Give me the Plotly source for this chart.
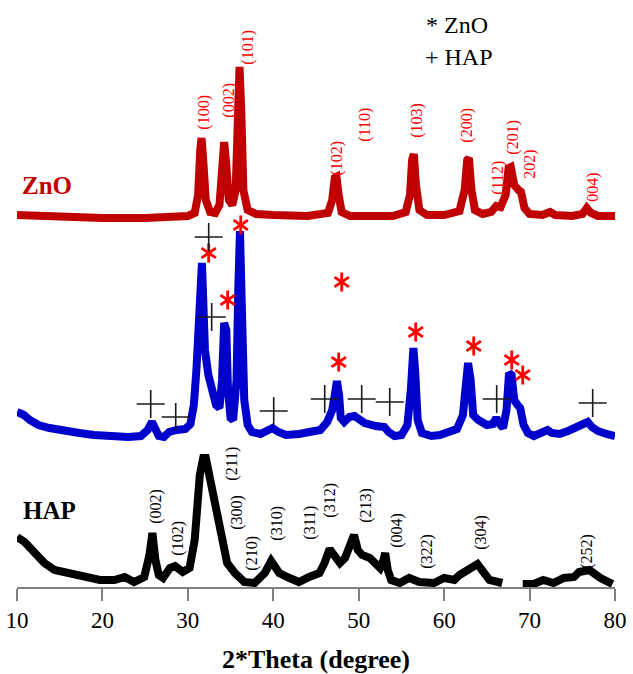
import plotly.graph_objects as go

# ---------------- XRD patterns (2-theta in degrees, intensity in a.u.) ----------------
zno_theta = [10.0, 12, 15, 20, 25, 28, 30, 30.8, 31.2, 31.45, 31.6, 31.8, 32.1, 32.6, 33.2,
             33.7, 34.0, 34.25, 34.5, 34.8, 35.2, 35.6, 35.85, 36.05, 36.25, 36.5, 37.0, 38,
             40, 44, 46.4, 46.9, 47.2, 47.4, 47.65, 48.0, 49, 52, 54, 55.5, 56.0, 56.25,
             56.45, 56.7, 57.1, 58, 60, 61.8, 62.4, 62.7, 62.9, 63.2, 63.6, 64.5, 65.5, 66.1,
             66.6, 67.2, 67.55, 67.8, 68.2, 68.7, 69.0, 69.4, 70, 71.5, 72.4, 73, 75, 76.2,
             76.7, 77.2, 78, 80]
zno_int = [3, 2, 1, 0, 0, 1, 2, 5, 23, 68, 80, 58, 18, 6, 5,
           13, 48, 76, 53, 18, 13, 28, 98, 151, 108, 28, 8, 4,
           3, 2, 5, 18, 40, 41, 23, 6, 2, 2, 2, 6, 23, 58,
           64, 33, 8, 3, 3, 7, 28, 58, 60, 28, 8, 4, 6, 12,
           11, 23, 50, 51, 33, 28, 26, 10, 4, 3, 6, 3, 2, 4,
           10, 5, 2, 2]

znhap_theta = [10.0, 10.8, 11.5, 12.5, 13.8, 15.5, 17.3, 19, 20.8, 23, 24.5, 25.3, 25.8, 26.2,
               26.6, 27.2, 27.8, 28.7, 29.7, 30.3, 30.7, 31.0, 31.3, 31.5, 31.65, 31.8, 32.0,
               32.4, 32.9, 33.3, 33.7, 34.0, 34.25, 34.5, 34.7, 35.0, 35.3, 35.7, 35.9, 36.1,
               36.3, 36.6, 37.0, 37.5, 38.5, 39.4, 39.9, 40.6, 41.5, 43, 44.5, 45.5, 46.3,
               46.9, 47.2, 47.45, 47.7, 47.9, 48.3, 48.9, 49.5, 50.0, 50.7, 52, 53, 53.5, 54.2,
               55, 55.7, 56.1, 56.4, 56.6, 56.9, 57.4, 58.5, 59.5, 60.5, 61.5, 62.2, 62.5,
               62.8, 63.1, 63.4, 64, 65, 65.7, 66.1, 66.5, 66.9, 67.3, 67.6, 67.9, 68.2, 68.6,
               68.9, 69.3, 69.8, 70.5, 71.5, 72.1, 72.6, 73.5, 74.5, 75.5, 76.3, 76.8, 77.3,
               78, 79, 80]
znhap_int = [25, 22, 17, 12, 9, 6, 4, 2, 1, 0, 1, 7, 15, 9,
             1, 0, 5, 7, 8, 13, 32, 67, 117, 174, 174, 137, 87,
             62, 42, 32, 29, 57, 114, 107, 47, 19, 17, 57, 147, 206,
             137, 37, 12, 5, 3, 7, 9, 5, 2, 3, 5, 7, 15,
             27, 42, 56, 42, 19, 15, 20, 21, 17, 14, 11, 10, 5, 1,
             2, 12, 47, 89, 67, 17, 4, 1, 2, 4, 8, 22, 47,
             74, 57, 22, 17, 12, 13, 19, 13, 9, 27, 64, 62, 37, 32,
             29, 12, 4, 1, 4, 7, 4, 3, 6, 9, 13, 15, 10,
             6, 3, 1]

# HAP scan has no data recorded between ~66.8 and ~69.2 degrees
hap_theta = [10.0, 10.9, 12.1, 13.2, 14.4, 16.2, 17.9, 19.7, 21.4, 22.6, 23.7, 24.9, 25.5,
             25.85, 26.2, 26.6, 27.1, 27.9, 28.5, 29.4, 30.2, 30.8, 31.4, 31.8, 32.1, 32.5,
             33.1, 33.9, 34.6, 35.5, 36.6, 37.8, 39.0, 39.75, 40.7, 41.9, 43.0, 44.2, 45.4,
             46.0, 46.6, 47.1, 47.8, 48.4, 49.0, 49.45, 49.9, 50.4, 51.3, 52.5, 52.9, 53.1,
             53.4, 53.8, 54.8, 55.9, 57.1, 58.8, 60.0, 61.2, 61.8, 63.0, 63.9, 65.3, 66.5,
             66.8, None, 69.2, 70.5, 71.6, 72.8, 74.0, 75.2, 75.8, 77.0, 78.3, 79.7]
hap_int = [50, 45, 34, 24, 17, 14, 10, 7, 7, 10, 5, 10, 32,
           54, 27, 12, 9, 19, 21, 15, 19, 47, 112, 129, 129, 112,
           80, 47, 24, 14, 5, 4, 14, 26, 14, 9, 5, 10, 14,
           24, 38, 32, 24, 29, 42, 52, 37, 32, 29, 19, 27, 34,
           17, 7, 4, 9, 5, 4, 9, 7, 12, 19, 23, 7, 4,
           4, None, 3, 3, 7, 4, 9, 10, 15, 17, 9, 3]

# vertical stacking offsets of the three patterns
offset_hap = 0
offset_znhap = 150
offset_zno = 369

# ---------------- Miller-index labels ----------------
zno_hkl = ["(100)", "(002)", "(101)", "(102)", "(110)", "(103)", "(200)", "(112)", "(201)", "202)", "004)"]
zno_hkl_theta = [31.85, 34.78, 37.0, 47.42, 50.7, 56.79, 62.64, 66.27, 68.02, 70.01, 77.39]
zno_hkl_y = [475, 487, 540, 429, 462, 467, 462, 409, 450, 423, 400]

hap_hkl = ["(002)", "(102)", "(211)", "(300)", "(210)", "(310)", "(311)", "(312)", "(213)",
           "(004)", "(322)", "(304)", "(252)"]
hap_hkl_theta = [26.24, 28.81, 35.13, 35.72, 37.47, 40.4, 44.26, 46.6, 50.82, 54.45, 57.96, 64.28, 76.69]
hap_hkl_y = [81, 49, 123, 75, 34, 64, 64, 87, 82, 57, 36, 55, 36]

# phase markers on the composite pattern
zno_mark_theta = [32.44, 36.19, 34.66, 48.01, 47.66, 56.67, 63.46, 67.91, 69.2]
zno_mark_y = [334, 362, 287, 305, 225, 255, 241, 227, 212]
hap_mark_theta = [32.44, 32.79, 25.65, 28.58, 40.05, 46.02, 50.35, 53.63, 66.15, 77.39]
hap_mark_y = [350, 270, 183, 170, 176, 188, 188, 185, 188, 184]

x_ticks = [10, 20, 30, 40, 50, 60, 70, 80]

SERIF = "Liberation Serif"


def shifted(values, off):
    return [None if v is None else v + off for v in values]


fig = go.Figure()

fig.add_trace(go.Scatter(x=hap_theta, y=shifted(hap_int, offset_hap), mode="lines",
                         line=dict(color="#000000", width=8), connectgaps=False,
                         hoverinfo="skip", name="HAP"))
fig.add_trace(go.Scatter(x=znhap_theta, y=shifted(znhap_int, offset_znhap), mode="lines",
                         line=dict(color="#0000CC", width=8), hoverinfo="skip", name="40ZnHAP"))
fig.add_trace(go.Scatter(x=zno_theta, y=shifted(zno_int, offset_zno), mode="lines",
                         line=dict(color="#C00000", width=8), hoverinfo="skip", name="ZnO"))

# six-armed asterisks built from two opposed "Y" symbols
for sym in ("y-up-open", "y-down-open"):
    fig.add_trace(go.Scatter(x=zno_mark_theta, y=zno_mark_y, mode="markers",
                             marker=dict(symbol=sym, size=12, color="#FF0000",
                                         line=dict(color="#FF0000", width=2.8)),
                             hoverinfo="skip", cliponaxis=False))
fig.add_trace(go.Scatter(x=hap_mark_theta, y=hap_mark_y, mode="markers",
                         marker=dict(symbol="cross-thin", size=20, color="#1a1a1a",
                                     line=dict(color="#1a1a1a", width=1.6)),
                         hoverinfo="skip", cliponaxis=False))

annotations = []
for t, xv, yv in zip(zno_hkl, zno_hkl_theta, zno_hkl_y):
    annotations.append(dict(x=xv, y=yv, text=t, textangle=-90, showarrow=False,
                            font=dict(family=SERIF, size=16, color="#FF0000")))
for t, xv, yv in zip(hap_hkl, hap_hkl_theta, hap_hkl_y):
    annotations.append(dict(x=xv, y=yv, text=t, textangle=-90, showarrow=False,
                            font=dict(family=SERIF, size=16, color="#000000")))

# sample names
annotations += [
    dict(x=10.32, y=402, text="<b>ZnO</b>", xanchor="left", showarrow=False,
         font=dict(family=SERIF, size=25, color="#C00000")),
    dict(x=9.85, y=207, text="<b>40ZnHAP</b>", xanchor="left", showarrow=False,
         font=dict(family=SERIF, size=25, color="#0000CC")),
    dict(x=10.43, y=77, text="<b>HAP</b>", xanchor="left", showarrow=False,
         font=dict(family=SERIF, size=25, color="#000000")),
    dict(x=57.7, y=562, text="* ZnO", xanchor="left", showarrow=False,
         font=dict(family=SERIF, size=24, color="#000000")),
    dict(x=57.5, y=530, text="+ HAP", xanchor="left", showarrow=False,
         font=dict(family=SERIF, size=24, color="#000000")),
]

fig.update_layout(
    width=633, height=674,
    margin=dict(l=17, r=18, t=0, b=87),
    paper_bgcolor="white", plot_bgcolor="white",
    showlegend=False,
    annotations=annotations,
    xaxis=dict(range=[10, 80], tickvals=x_ticks, ticktext=[str(v) for v in x_ticks],
               ticks="outside", ticklen=12, tickwidth=1.5, tickcolor="#808080",
               showline=True, linecolor="#808080", linewidth=1.5,
               showgrid=False, zeroline=False,
               tickfont=dict(family=SERIF, size=23, color="#000000"),
               title=dict(text="<b>2*Theta (degree)</b>", standoff=19,
                          font=dict(family=SERIF, size=26, color="#000000"))),
    yaxis=dict(range=[0, 587], visible=False, showgrid=False, zeroline=False),
)

fig.write_html("out.html")
